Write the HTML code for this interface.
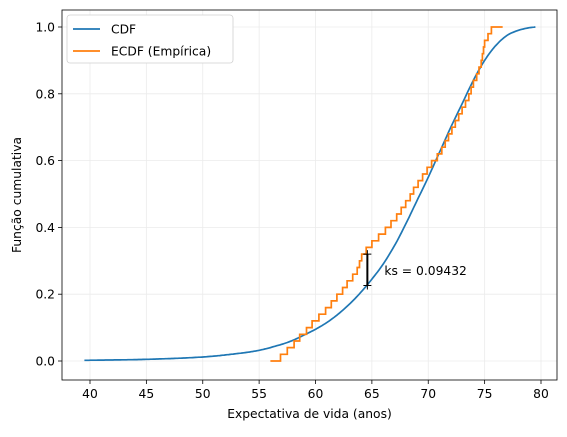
<!DOCTYPE html>
<html><head><meta charset="utf-8"><style>
body{margin:0;background:#fff;font-family:"Liberation Sans","DejaVu Sans",sans-serif}
svg text{font-family:"DejaVu Sans","Liberation Sans",sans-serif;font-size:12.3px;fill:#000}
</style></head><body>
<svg id="c" width="567" height="432"></svg>
<script>
const ecdfValues=[56.9,57.5,58.1,58.6,59.2,59.7,60.3,60.9,61.4,61.9,62.4,62.8,63.3,63.7,63.9,64.1,64.5,65.0,65.6,66.2,66.7,67.2,67.6,68.0,68.4,68.7,69.1,69.5,69.9,70.3,70.8,71.2,71.5,71.8,72.1,72.4,72.7,73.0,73.3,73.6,73.8,74.0,74.3,74.5,74.7,74.8,74.9,75.0,75.3,75.6];
const cdfX=[39.5,45,50,53,55,57,58,59,60,61,62,63,64,65,66,67,68,69,70,71,72,73,74,75,76,77,78,79,79.5];
const cdfY=[0.002,0.005,0.012,0.022,0.032,0.05,0.062,0.078,0.095,0.115,0.14,0.17,0.205,0.245,0.29,0.345,0.41,0.48,0.55,0.625,0.70,0.77,0.84,0.90,0.945,0.975,0.99,0.998,1.0];
const xTicks=[40,45,50,55,60,65,70,75,80];
const yTicks=[0,0.2,0.4,0.6,0.8,1.0];
const ksX=64.6, ksLo=0.226, ksHi=0.32, ksLabel="ks = 0.09432";
const ecdfStart=56.0, ecdfEnd=76.6;

const L=62,R=557,T=10,B=380;
const sx=v=>90+(v-40)*11.275;
const sy=v=>361-v*334;
const svg=document.getElementById('c');
const NS='http://www.w3.org/2000/svg';
function mk(t,a,p){const e=document.createElementNS(NS,t);for(const k in a)e.setAttribute(k,a[k]);(p||svg).appendChild(e);return e;}
xTicks.forEach(t=>{const g=mk('line',{x1:sx(t),x2:sx(t),y1:T,y2:B,stroke:'#ebebeb','stroke-width':0.8});


mk('line',{x1:sx(t),x2:sx(t),y1:B,y2:B+4,stroke:'#000','stroke-width':0.8});
const tx=mk('text',{x:sx(t),y:B+18,'text-anchor':'middle'});tx.textContent=t;

});
yTicks.forEach(t=>{const g=mk('line',{x1:L,x2:R,y1:sy(t),y2:sy(t),stroke:'#ebebeb','stroke-width':0.8});


mk('line',{x1:L-4,x2:L,y1:sy(t),y2:sy(t),stroke:'#000','stroke-width':0.8});
const tx=mk('text',{x:L-7,y:sy(t)+4.5,'text-anchor':'end'});tx.textContent=t.toFixed(1);

});
function interp(x){let i=0;while(i<cdfX.length-2&&x>cdfX[i+1])i++;
const x0=cdfX[i],x1=cdfX[i+1],y0=cdfY[i],y1=cdfY[i+1];
const m0=i>0?(y1-cdfY[i-1])/(x1-cdfX[i-1]):(y1-y0)/(x1-x0);
const m1=i<cdfX.length-2?(cdfY[i+2]-y0)/(cdfX[i+2]-x0):(y1-y0)/(x1-x0);
const h=x1-x0,t=(x-x0)/h,t2=t*t,t3=t2*t;
return (2*t3-3*t2+1)*y0+(t3-2*t2+t)*h*m0+(-2*t3+3*t2)*y1+(t3-t2)*h*m1;}
let d='';const xa=cdfX[0],xb=cdfX[cdfX.length-1];
for(let k=0;k<=300;k++){const x=xa+(xb-xa)*k/300;d+=(k?'L':'M')+sx(x).toFixed(1)+','+sy(interp(x)).toFixed(1);}
const cdf=mk('path',{d:d,fill:'none',stroke:'#1f77b4','stroke-width':1.7});


const n=ecdfValues.length;let e='M'+sx(ecdfStart)+','+sy(0);
ecdfValues.forEach((v,i)=>{e+='L'+sx(v).toFixed(1)+','+sy(i/n).toFixed(1)+'L'+sx(v).toFixed(1)+','+sy((i+1)/n).toFixed(1);});
e+='L'+sx(ecdfEnd)+','+sy(1);
const ec=mk('path',{d:e,fill:'none',stroke:'#ff7f0e','stroke-width':1.7});


const ks=mk('line',{x1:sx(ksX),x2:sx(ksX),y1:sy(ksLo),y2:sy(ksHi),stroke:'#000','stroke-width':2});


[ksLo,ksHi].forEach(v=>{mk('path',{d:`M${sx(ksX)-4},${sy(v)}h8M${sx(ksX)},${sy(v)-4}v8`,stroke:'#000','stroke-width':1});});
const kt=mk('text',{x:sx(ksX)+17,y:sy((ksLo+ksHi)/2)+5});kt.textContent=ksLabel;


const fr=mk('rect',{x:L,y:T,width:R-L,height:B-T,fill:'none',stroke:'#000','stroke-width':0.8});


const xt=mk('text',{x:(L+R)/2,y:418,'text-anchor':'middle'});xt.textContent='Expectativa de vida (anos)';


const yt=mk('text',{x:0,y:0,'text-anchor':'middle',transform:`translate(21,${(T+B)/2}) rotate(-90)`});yt.textContent='Função cumulativa';


const lg=mk('g',{});


mk('rect',{x:67,y:15,width:166,height:48,rx:3,fill:'#fff',stroke:'#d0d0d0','stroke-width':0.8},lg);
mk('line',{x1:73,x2:100,y1:29,y2:29,stroke:'#1f77b4','stroke-width':1.7},lg);
mk('line',{x1:73,x2:100,y1:51,y2:51,stroke:'#ff7f0e','stroke-width':1.7},lg);
const l1=mk('text',{x:111,y:33.5},lg);l1.textContent='CDF';


const l2=mk('text',{x:111,y:55.5},lg);l2.textContent='ECDF (Empírica)';


</script>
</body></html>
